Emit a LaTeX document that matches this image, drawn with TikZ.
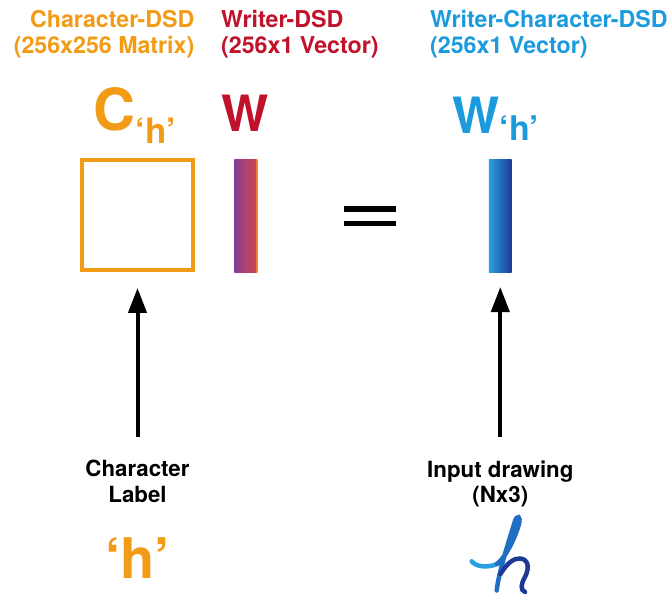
\documentclass[tikz,border=0pt]{standalone}
\usepackage{fontspec}
\setmainfont{TeX Gyre Heros}
\usepackage{xcolor}
\usetikzlibrary{arrows.meta}

\definecolor{dsdorange}{RGB}{242,155,22}
\definecolor{dsdred}{RGB}{192,18,42}
\definecolor{dsdblue}{RGB}{28,154,222}
\definecolor{wpurple}{RGB}{122,62,150}
\definecolor{wmid}{RGB}{180,66,110}
\definecolor{wright}{RGB}{198,66,92}
\definecolor{wedge}{RGB}{242,125,48}
\definecolor{hlight}{RGB}{42,160,225}
\definecolor{hmid}{RGB}{30,110,195}
\definecolor{hdark}{RGB}{28,58,150}

% colour ramps of the two vectors
\pgfdeclarehorizontalshading{wshade}{100bp}{color(0bp)=(wpurple); color(25bp)=(wpurple);
  color(50bp)=(wmid); color(70bp)=(wright); color(71bp)=(wedge); color(100bp)=(wedge)}
\pgfdeclarehorizontalshading{wcshade}{100bp}{color(0bp)=(hlight); color(25bp)=(hlight);
  color(75bp)=(hdark); color(100bp)=(hdark)}

\begin{document}
\begin{tikzpicture}[x=1pt,y=-1pt,
    title/.style={inner sep=0pt,font=\bfseries\fontsize{23.2}{25.5}\selectfont},
    label/.style={inner sep=0pt,align=center,font=\bfseries\fontsize{22.3}{25.7}\selectfont},
    vec/.style={inner sep=0pt,minimum width=23pt,minimum height=113pt},
    arr/.style={-{Triangle[length=25pt,width=18pt]},line width=4pt},
    hand/.style={line width=4.5pt,line cap=round}]
    \useasboundingbox (0,0) rectangle (670,594);

    % headings
    \node[title,dsdorange,anchor=north east,align=right] (ctitle) at (194.5,10.3)
        {Character-DSD\\(256x256 Matrix)};
    \node[title,dsdred,anchor=north west,align=left] (wtitle) at (221,10.3)
        {Writer-DSD\\(256x1 Vector)};
    \node[title,dsdblue,anchor=north west,align=left] (wctitle) at (430,10.3)
        {Writer-Character-DSD\\(256x1 Vector)};

    % symbols
    \node[inner sep=0pt,anchor=base west,dsdorange,font=\bfseries\fontsize{58}{60}\selectfont] (csym) at (93.5,130)
        {C{\fontsize{35}{36}\selectfont\raisebox{-13.5pt}{‘h’}}};
    \node[inner sep=0pt,anchor=base west,dsdred,font=\bfseries\fontsize{50}{52}\selectfont] (wsym) at (221.5,131.7) {W};
    \node[inner sep=0pt,anchor=base west,dsdblue,font=\bfseries\fontsize{50}{52}\selectfont] (wcsym) at (452.5,133.3)
        {W{\fontsize{34}{35}\selectfont\raisebox{-6.7pt}{‘h’}}};

    % matrix and vectors
    \node[draw=dsdorange,line width=3.5pt,inner sep=0pt,minimum width=111.4pt,minimum height=110pt] (cmat) at (137.5,215) {};
    \node[vec,shading=wshade] (wvec) at (245.8,215.8) {};
    \node[vec,minimum width=22.7pt,shading=wcshade] (wcvec) at (500.3,215.8) {};

    % equals sign
    \fill (344,206) rectangle (396,211.7);
    \fill (344,220.7) rectangle (396,226);

    % inputs
    \node[label,anchor=north] (clabel) at (137.5,460.2) {Character\\Label};
    \node[label,anchor=north] (input) at (500.3,460.2) {Input drawing\\(Nx3)};
    \node[inner sep=0pt,anchor=base,dsdorange,font=\bfseries\fontsize{56}{58}\selectfont] (hchar) at (137.5,578) {‘h’};

    \draw[arr,shorten <=23.2pt,shorten >=16.2pt] (clabel.north) -- (cmat.south);
    \draw[arr,shorten <=23.2pt,shorten >=14.5pt] (input.north) -- (wcvec.south);

    % handwritten h
    \draw[hand,hlight] (471.7,561.3) .. controls (476,567) and (488,568) .. (497,564);
    \draw[hand,hmid] (497,564) .. controls (507,556) and (516,535) .. (519,524)
        .. controls (521,516) and (517,515) .. (515,521)
        .. controls (510,538) and (499,570) .. (496.7,590.5);
    \draw[hand,hdark] (500.5,574) .. controls (507,563) and (514,558) .. (520,558.5)
        .. controls (528,559) and (530,567) .. (525,577)
        .. controls (521,584) and (520,590) .. (525,592);
\end{tikzpicture}
\end{document}
